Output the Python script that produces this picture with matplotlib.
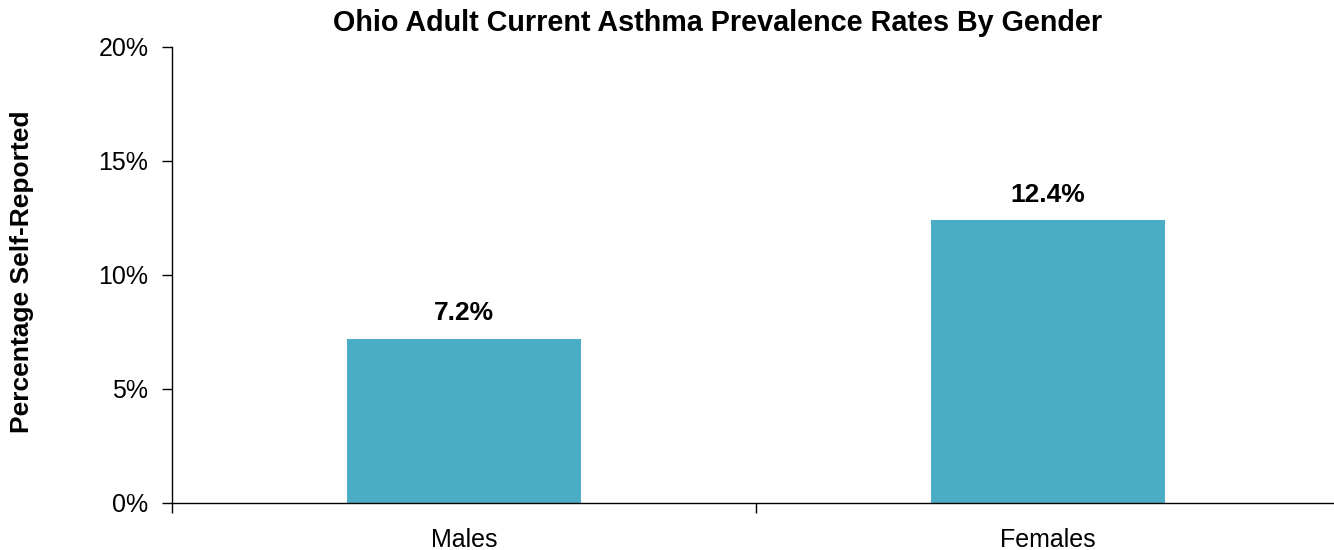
import matplotlib
matplotlib.use("Agg")
import matplotlib.pyplot as plt
from matplotlib.ticker import FixedLocator

plt.rcParams["font.family"] = ["Liberation Sans", "DejaVu Sans"]

# Data
genders = ["Males", "Females"]
rates = [7.2, 12.4]
y_ticks = [0, 5, 10, 15, 20]

bar_color = "#4BACC6"

fig = plt.figure(figsize=(13.34, 5.5), dpi=100)
ax = fig.add_axes([172 / 1334, 47 / 550, 1168 / 1334, 456 / 550])

x = list(range(len(genders)))
ax.bar(x, rates, width=0.4, color=bar_color)

for xi, v in zip(x, rates):
    ax.text(xi, v + 0.6, f"{v:.1f}%", ha="center", va="bottom",
            fontsize=19, fontweight="bold")

ax.set_xlim(-0.5, len(genders) - 0.5)
ax.set_ylim(0, 20)
ax.set_yticks(y_ticks)
ax.set_yticklabels([f"{t}%" for t in y_ticks], fontsize=18)
ax.set_xticks(x)
ax.set_xticklabels(genders, fontsize=18)
ax.tick_params(axis="x", which="major", length=0, pad=18)
ax.xaxis.set_minor_locator(FixedLocator([-0.5, 0.5, 1.5]))
ax.tick_params(axis="x", which="minor", length=7, width=1)
ax.tick_params(axis="y", length=7, width=1, pad=10)

for s in ["top", "right"]:
    ax.spines[s].set_visible(False)
for s in ["left", "bottom"]:
    ax.spines[s].set_linewidth(1)

fig.text(22 / 1334, 1 - 272 / 550, "Percentage Self-Reported", rotation=90,
         ha="center", va="center", fontsize=19, fontweight="bold")
fig.text(718 / 1334, 1 - 23 / 550, "Ohio Adult Current Asthma Prevalence Rates By Gender",
         ha="center", va="center", fontsize=20.7, fontweight="bold")

fig.savefig("out.png", dpi=100)
